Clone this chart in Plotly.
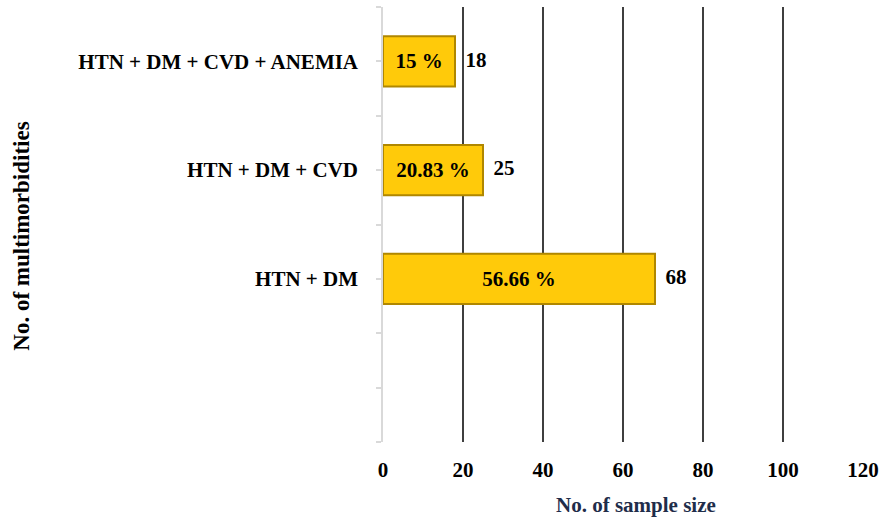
import plotly.graph_objects as go

# Multimorbidity combinations, sample counts and share of patients
categories = ["HTN + DM", "HTN + DM + CVD", "HTN + DM + CVD + ANEMIA"]
counts = [68, 25, 18]
percent_labels = ["56.66 %", "20.83 %", "15 %"]
x_ticks = [0, 20, 40, 60, 80, 100, 120]
grid_vals = [20, 40, 60, 80, 100]

SERIF = "Liberation Serif"

# one empty slot below the first category, as on the category axis
positions = [i + 1 for i in range(len(categories))]
n_slots = len(categories) + 1
y_tickvals = [v / 2 - 0.5 for v in range(2 * n_slots + 1)]
y_ticktext = [categories[positions.index(v)] if v in positions else "" for v in y_tickvals]

fig = go.Figure()

fig.add_trace(go.Bar(
    x=counts, y=positions, orientation="h", width=0.46,
    text=percent_labels, textposition="inside", insidetextanchor="middle",
    textangle=0,
    textfont=dict(family=SERIF, size=21, color="black", weight="bold"),
    marker=dict(color="#FFCA0A", line=dict(color="#B08700", width=2)),
    showlegend=False, hoverinfo="skip",
))

# value labels beside the bars (on a matching axis that carries the gridlines)
fig.add_trace(go.Scatter(
    x=counts, y=positions, mode="text", text=[f"  {c}" for c in counts],
    textposition="middle right",
    textfont=dict(family=SERIF, size=21, color="black", weight="bold"),
    xaxis="x2", showlegend=False, hoverinfo="skip",
))

fig.update_layout(
    width=886, height=522,
    margin=dict(l=383, r=20, t=7, b=80),
    paper_bgcolor="white", plot_bgcolor="white",
    xaxis=dict(
        range=[0, 120], tickmode="array", tickvals=x_ticks,
        showgrid=False, zeroline=False, showline=False, ticks="",
        tickfont=dict(family=SERIF, size=21, color="black", weight="bold"),
        ticklabelstandoff=13,
    ),
    xaxis2=dict(
        matches="x", overlaying="x", range=[0, 120],
        tickmode="array", tickvals=grid_vals, showticklabels=False,
        showgrid=True, gridcolor="#3f3f3f", gridwidth=2,
        zeroline=False, showline=False, ticks="",
    ),
    yaxis=dict(
        range=[-0.5, n_slots - 0.5], tickmode="array",
        tickvals=y_tickvals, ticktext=y_ticktext,
        showgrid=False, zeroline=False,
        showline=True, linecolor="#D9D9D9", linewidth=1.5,
        ticks="outside", ticklen=5, tickcolor="#D9D9D9", tickwidth=1.5,
        tickfont=dict(family=SERIF, size=21, color="black", weight="bold"),
        ticklabelstandoff=14,
    ),
    annotations=[
        dict(text="No. of sample size", xref="paper", yref="paper",
             x=0.528, y=-0.145, xanchor="center", yanchor="middle",
             showarrow=False,
             font=dict(family=SERIF, size=21, color="#1F2D4A", weight="bold")),
        dict(text="No. of multimorbidities", xref="paper", yref="paper",
             x=-0.752, y=0.472, xanchor="center", yanchor="middle",
             textangle=-90, showarrow=False,
             font=dict(family=SERIF, size=23, color="black", weight="bold")),
    ],
)

fig.write_html("out.html")
